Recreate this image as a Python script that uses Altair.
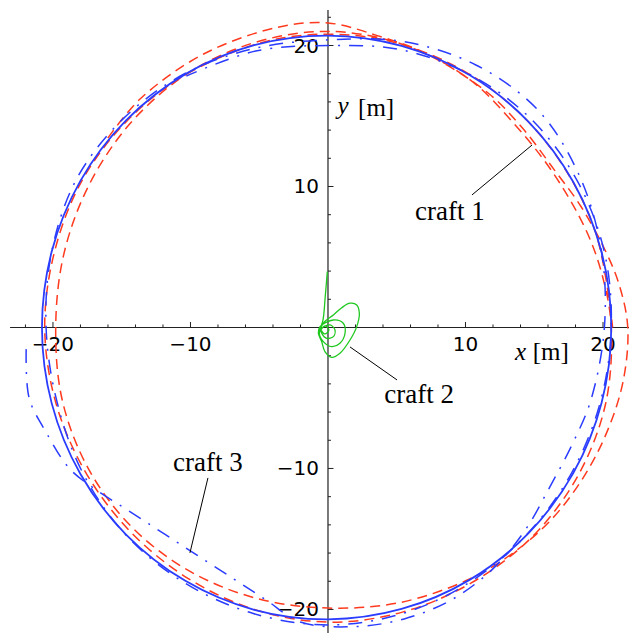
import altair as alt
import numpy as np
import pandas as pd

# ---------------- data ----------------
# reference circle (solid blue): angle [deg], radius [m]
ref_angle = [0, 15, 30, 45, 60, 75, 90, 105, 120, 135, 150, 165, 180, 195, 210, 225, 240, 255, 270, 285, 300, 315, 330, 345]
ref_radius = [20.6, 20.6, 20.61, 20.63, 20.65, 20.67, 20.7, 20.73, 20.75, 20.77, 20.79, 20.8, 20.8, 20.8, 20.79, 20.77, 20.75, 20.73, 20.7, 20.67, 20.65, 20.63, 20.61, 20.6]

# craft 1 (red dashed): angle [deg], radius [m]
c1_angle = [140, 130, 115, 100, 90, 80, 70, 55, 45, 34, 25, 15, 8, 0, -10, -20, -30, -40, -50, -60, -75, -90,
            -105, -120, -135, -150, -165, -180, -195, -210, -225, -240, -255, -270, -285, -300, -313, -326,
            -340, -350, -360, -375, -390, -405, -420, -435, -450, -465, -480, -495, -510, -525, -540, -555,
            -570, -585, -600, -620, -640, -660, -680, -700, -720]
c1_radius = [20.9, 21.2, 21.4, 21.6, 21.6, 21.0, 20.7, 20.3, 20.0, 19.9, 20.3, 20.9, 21.4, 21.8, 21.8, 21.6, 21.4, 21.2, 20.9, 20.6, 20.2, 19.9,
             19.9, 20.0, 20.1, 20.1, 20.0, 19.8, 19.9, 20.1, 20.4, 20.7, 20.9, 21.0, 20.8, 20.4, 19.8, 19.7,
             20.0, 20.3, 20.6, 20.9, 21.0, 21.0, 20.9, 20.9, 20.9, 20.7, 20.5, 20.4, 20.4, 20.5, 20.6, 20.6,
             20.7, 20.7, 20.7, 20.8, 20.8, 20.7, 20.6, 20.6, 20.7]

# craft 3 (blue dash-dot): angle [deg], radius [m]
c3_angle = [184, 193, 200, 208, 214.2, 222, 231, 240, 249, 257, 264.5, 275, 285, 295, 305, 315, 325, 335, 345, 360,
            375, 390, 405, 420, 435, 450, 465, 480, 495, 510, 525, 540, 555, 570, 585, 600, 615, 630, 645, 660,
            675, 690, 705, 720, 735, 750, 765, 780, 795, 810, 825, 840]
c3_radius = [22.0, 22.3, 21.8, 21.3, 20.44, 19.46, 18.87, 18.76, 19.11, 19.86, 20.99, 21.3, 21.4, 21.3, 20.9, 20.3, 19.7, 19.6, 19.8, 20.1,
             20.6, 21.2, 21.7, 21.5, 21.0, 20.4, 20.5, 20.8, 21.0, 21.1, 20.8, 20.5, 20.4, 20.6, 20.8, 20.9, 21.0, 21.1, 21.0, 20.8,
             20.6, 20.5, 20.5, 20.6, 20.8, 20.9, 20.9, 20.7, 20.4, 20.0, 20.3, 20.6]

# craft 2 (green): x, y [m]
c2_x = [-0.05, -0.2, -0.39, -0.7, -0.3, 0.39, 1.0, 1.6, 2.09, 2.28, 2.09, 1.6, 0.87, 0.27, -0.22, -0.46, -0.7,
        -0.58, 0.39, 1.11, 1.24, 0.87, 0.27, -0.34, -0.63, -0.46, 0.15, 0.51, 0.39, -0.1, -0.46,
        -0.51, -0.22, 0.07, -0.22, -0.51]
c2_y = [3.96, 2.2, 0.41, -0.3, 0.35, 0.89, 1.4, 1.72, 1.6, 1.0, 0.06, -0.89, -1.83, -2.12, -1.71, -1.0, -0.41,
        0.06, 0.53, 0.3, -0.41, -1.12, -1.36, -1.0, -0.41, -0.06, 0.18, -0.18, -0.65, -0.77, -0.41,
        -0.18, 0.11, -0.18, -0.46, -0.18]

# axes ticks and labels
major_ticks = [-20, -10, 10, 20]
major_labels = ["\u221220", "\u221210", "10", "20"]
x_minor = [-22, -18, -16, -14, -12, -8, -6, -4, -2, 2, 4, 6, 8, 12, 14, 16, 18]
y_minor = [-18, -16, -14, -12, -8, -6, -4, -2, 2, 4, 6, 8, 12, 14, 16, 18, 22]

# annotations
ann_text = ["craft 1", "craft 2", "craft 3"]
ann_tx = [8.87, 6.62, -8.73]
ann_ty = [8.19, -4.79, -9.61]
ann_x1 = [10.47, 5.02, -8.73]
ann_y1 = [9.4, -3.72, -10.67]
ann_x2 = [14.84, 1.6, -10.04]
ann_y2 = [12.94, -1.38, -15.99]

# ---------------- chart ----------------
X0, X1 = -23.27, 21.89
Y0, Y1 = -21.67, 22.66
W, H = 621, 625
xs = alt.Scale(domain=[X0, X1], nice=False, zero=False)
ys = alt.Scale(domain=[Y0, Y1], nice=False, zero=False)


def polar_df(ang, rad):
    a = np.radians(np.asarray(ang, float))
    r = np.asarray(rad, float)
    return pd.DataFrame({"x": r * np.cos(a), "y": r * np.sin(a), "i": np.arange(len(r))})


def path(df, color, width, interp, dash=None):
    kw = dict(color=color, strokeWidth=width, interpolate=interp, clip=True)
    if dash is not None:
        kw["strokeDash"] = dash
    return alt.Chart(df).mark_line(**kw).encode(
        x=alt.X("x:Q", scale=xs, axis=None),
        y=alt.Y("y:Q", scale=ys, axis=None),
        order=alt.Order("i:Q"),
    )


RED = "#ff3a1e"
BLUE = "#2a3cff"
GREEN = "#1ec81e"
AX = "#222222"

red = path(polar_df(c1_angle, c1_radius), RED, 1.5, "catmull-rom", [10, 6])
blue_dd = path(polar_df(c3_angle, c3_radius), BLUE, 1.5, "catmull-rom", [14, 9, 2, 9])
green_df = pd.DataFrame({"x": c2_x, "y": c2_y, "i": np.arange(len(c2_x))})
green = path(green_df, GREEN, 1.3, "catmull-rom")
solid = path(polar_df(ref_angle, ref_radius), BLUE, 1.8, "cardinal-closed")

# axes lines
axes_df = pd.DataFrame({"x": [X0 + 0.15, 0.0], "x2": [X1, 0.0], "y": [0.0, Y0], "y2": [0.0, Y1 - 0.15]})
axes = alt.Chart(axes_df).mark_rule(color=AX, strokeWidth=1.2).encode(
    x=alt.X("x:Q", scale=xs, axis=None), x2="x2:Q",
    y=alt.Y("y:Q", scale=ys, axis=None), y2="y2:Q")

maj_df = pd.DataFrame({"v": major_ticks, "lab": major_labels, "z": [0.0] * len(major_ticks)})
xmin_df = pd.DataFrame({"v": x_minor, "z": [0.0] * len(x_minor)})
ymin_df = pd.DataFrame({"v": y_minor, "z": [0.0] * len(y_minor)})


def xticks(df, length):
    return alt.Chart(df).mark_rule(color=AX, strokeWidth=1, y2Offset=-length).encode(
        x=alt.X("v:Q", scale=xs, axis=None), y=alt.Y("z:Q", scale=ys, axis=None), y2="z:Q")


def yticks(df, length):
    return alt.Chart(df).mark_rule(color=AX, strokeWidth=1, x2Offset=length).encode(
        y=alt.Y("v:Q", scale=ys, axis=None), x=alt.X("z:Q", scale=xs, axis=None), x2="z:Q")


x_lab = alt.Chart(maj_df).mark_text(font="DejaVu Sans", fontSize=20, color="black", baseline="middle",
                                    align="center", dy=18).encode(
    x=alt.X("v:Q", scale=xs, axis=None), y=alt.Y("z:Q", scale=ys, axis=None), text="lab:N")
y_lab = alt.Chart(maj_df).mark_text(font="DejaVu Sans", fontSize=20, color="black", baseline="middle",
                                    align="right", dx=-9, dy=1).encode(
    y=alt.Y("v:Q", scale=ys, axis=None), x=alt.X("z:Q", scale=xs, axis=None), text="lab:N")

# axis titles (italic variable + roman unit)
it_df = pd.DataFrame({"x": [14.0, 1.1], "y": [-1.75, 15.7], "t": ["x", "y"]})
rm_df = pd.DataFrame({"x": [16.2, 3.5], "y": [-1.75, 15.6], "t": ["[m]", "[m]"]})
titles_it = alt.Chart(it_df).mark_text(
    font="Liberation Serif", fontSize=25, fontStyle="italic", color="black", baseline="middle", align="center").encode(
    x=alt.X("x:Q", scale=xs, axis=None), y=alt.Y("y:Q", scale=ys, axis=None), text="t:N")
titles_rm = alt.Chart(rm_df).mark_text(
    font="Liberation Serif", fontSize=25, color="black", baseline="middle", align="center").encode(
    x=alt.X("x:Q", scale=xs, axis=None), y=alt.Y("y:Q", scale=ys, axis=None), text="t:N")

ann_df = pd.DataFrame({"t": ann_text, "tx": ann_tx, "ty": ann_ty, "x1": ann_x1, "y1": ann_y1,
                       "x2": ann_x2, "y2": ann_y2})
ann_txt = alt.Chart(ann_df).mark_text(font="Liberation Serif", fontSize=27, color="black",
                                      baseline="middle", align="center").encode(
    x=alt.X("tx:Q", scale=xs, axis=None), y=alt.Y("ty:Q", scale=ys, axis=None), text="t:N")
ann_line = alt.Chart(ann_df).mark_rule(color="black", strokeWidth=1).encode(
    x=alt.X("x1:Q", scale=xs, axis=None), y=alt.Y("y1:Q", scale=ys, axis=None), x2="x2:Q", y2="y2:Q")

chart = alt.layer(
    axes, xticks(maj_df, 5.5), xticks(xmin_df, 3), yticks(maj_df, 5.5), yticks(ymin_df, 3), x_lab, y_lab,
    red, blue_dd, green, solid,
    titles_it, titles_rm, ann_line, ann_txt,
).properties(
    width=W, height=H, padding=0, autosize=alt.AutoSizeParams(type="none"), background="white"
).configure_view(stroke=None)

chart.save("out.html", embed_options={"renderer": "svg", "actions": False})
